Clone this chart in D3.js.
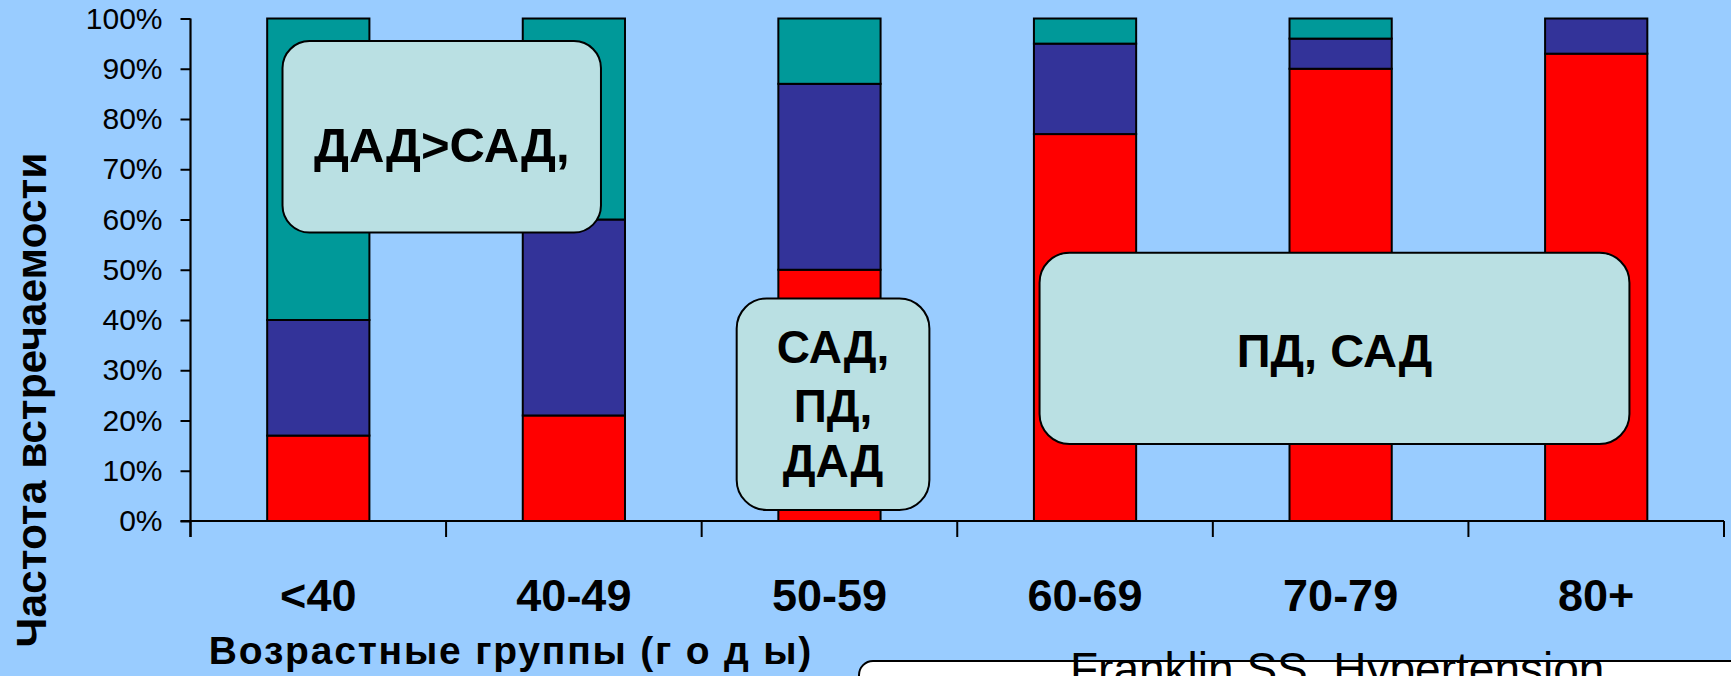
<!DOCTYPE html>
<html>
<head>
<meta charset="utf-8">
<script src="https://cdn.jsdelivr.net/npm/d3@7"></script>
<style>
  html, body { margin: 0; padding: 0; background: #99CCFF; overflow: hidden; }
  svg { display: block; font-family: Arial, "Liberation Sans", sans-serif; }
</style>
</head>
<body>
<svg id="chart" width="1731" height="676"></svg>
<script>
// Age groups and share (%) of each hypertension subtype
const categories = ["<40", "40-49", "50-59", "60-69", "70-79", "80+"];
const isolatedSystolic = [17, 21, 50, 77, 90, 93];
const systolicDiastolic = [23, 39, 37, 18, 6, 7];
const isolatedDiastolic = [60, 40, 13, 5, 4, 0];
const yTicks = [0, 10, 20, 30, 40, 50, 60, 70, 80, 90, 100];

const seriesKeys = ["isolatedSystolic", "systolicDiastolic", "isolatedDiastolic"];
const seriesColors = ["#FF0000", "#333399", "#009999"];

// Callouts placed in chart coordinates (category index position, percent)
const callouts = [
  { x0: 0.36, x1: 1.606, y0: 57.4, y1: 95.5, r: 27, size: 49, lines: ["ДАД>САД,"], baselines: [71.5] },
  { x0: 2.137, x1: 2.891, y0: 2.2, y1: 44.3, r: 30, size: 46, lines: ["САД,", "ПД,", "ДАД"], baselines: [31.4, 19.8, 8.7] },
  { x0: 3.322, x1: 5.63, y0: 15.3, y1: 53.4, r: 30, size: 47, lines: ["ПД, САД"], baselines: [30.7] }
];

(function draw() {
  const svg = d3.select("#chart");
  const plotLeft = 190.5, plotRight = 1724, plotTop = 18.5, plotBottom = 521;

  const rows = categories.map((c, i) => ({
    cat: c,
    isolatedSystolic: isolatedSystolic[i],
    systolicDiastolic: systolicDiastolic[i],
    isolatedDiastolic: isolatedDiastolic[i]
  }));
  const stacked = d3.stack().keys(seriesKeys)(rows);

  const x = d3.scaleBand().domain(categories).range([plotLeft, plotRight])
    .paddingInner(0.6).paddingOuter(0.3);
  const xPos = d3.scaleLinear().domain([0, categories.length]).range([plotLeft, plotRight]);
  const y = d3.scaleLinear().domain([0, 100]).range([plotBottom, plotTop]);

  // Stacked bars
  svg.append("g").selectAll("g")
    .data(stacked)
    .join("g")
    .attr("fill", (d, i) => seriesColors[i])
    .selectAll("rect")
    .data(d => d.filter(s => s[1] - s[0] > 0))
    .join("rect")
    .attr("x", d => x(d.data.cat))
    .attr("width", x.bandwidth())
    .attr("y", d => y(d[1]))
    .attr("height", d => y(d[0]) - y(d[1]))
    .attr("stroke", "#000")
    .attr("stroke-width", 2);

  // Y axis
  const yAxis = svg.append("g")
    .attr("transform", `translate(${plotLeft},0)`)
    .call(d3.axisLeft(y).tickValues(yTicks).tickSize(10).tickPadding(18)
      .tickFormat(d => d + "%"));
  yAxis.select(".domain").attr("stroke", "#000").attr("stroke-width", 2.2)
    .attr("d", `M0,${plotTop}V${plotBottom + 16}`);
  yAxis.selectAll(".tick line").attr("stroke", "#000").attr("stroke-width", 2);
  yAxis.selectAll(".tick text").attr("font-size", 30).attr("fill", "#000")
    .attr("font-family", "Arial, 'Liberation Sans', sans-serif");

  // X axis with boundary ticks between groups
  const xAxis = svg.append("g").attr("transform", `translate(0,${plotBottom})`);
  xAxis.append("line").attr("x1", plotLeft - 10).attr("x2", plotRight).attr("y1", 0).attr("y2", 0)
    .attr("stroke", "#000").attr("stroke-width", 2.2);
  xAxis.selectAll("line.bound")
    .data(d3.range(categories.length + 1))
    .join("line")
    .attr("class", "bound")
    .attr("x1", i => xPos(i)).attr("x2", i => xPos(i))
    .attr("y1", 0).attr("y2", 16)
    .attr("stroke", "#000").attr("stroke-width", 2);
  xAxis.selectAll("text")
    .data(categories)
    .join("text")
    .attr("x", d => x(d) + x.bandwidth() / 2)
    .attr("y", 90)
    .attr("text-anchor", "middle")
    .attr("font-size", 45)
    .attr("font-weight", "bold")
    .text(d => d);

  // Axis titles
  svg.append("text")
    .attr("x", 511).attr("y", 664)
    .attr("text-anchor", "middle")
    .attr("font-size", 39).attr("font-weight", "bold")
    .attr("letter-spacing", 1.8)
    .text("Возрастные группы (г о д ы)");

  svg.append("text")
    .attr("transform", "translate(46,400) rotate(-90)")
    .attr("text-anchor", "middle")
    .attr("font-size", 42.5).attr("font-weight", "bold")
    .text("Частота встречаемости");

  // Callout boxes
  const cg = svg.append("g").selectAll("g").data(callouts).join("g");
  cg.append("rect")
    .attr("x", d => xPos(d.x0))
    .attr("y", d => y(d.y1))
    .attr("width", d => xPos(d.x1) - xPos(d.x0))
    .attr("height", d => y(d.y0) - y(d.y1))
    .attr("rx", d => d.r).attr("ry", d => d.r)
    .attr("fill", "#BAE0E3")
    .attr("stroke", "#000").attr("stroke-width", 2);
  cg.each(function (d) {
    const g = d3.select(this);
    const cx = (xPos(d.x0) + xPos(d.x1)) / 2;
    d.lines.forEach((line, k) => {
      g.append("text")
        .attr("x", cx).attr("y", y(d.baselines[k]))
        .attr("text-anchor", "middle")
        .attr("font-size", d.size).attr("font-weight", "bold")
        .text(line);
    });
  });

  // Source reference
  svg.append("rect")
    .attr("x", 859).attr("y", 661)
    .attr("width", 1000).attr("height", 100)
    .attr("rx", 14).attr("ry", 14)
    .attr("fill", "#fff").attr("stroke", "#000").attr("stroke-width", 2);
  svg.append("text")
    .attr("x", 1070).attr("y", 685)
    .attr("font-size", 46)
    .text("Franklin SS, Hypertension");
})();
</script>
</body>
</html>
